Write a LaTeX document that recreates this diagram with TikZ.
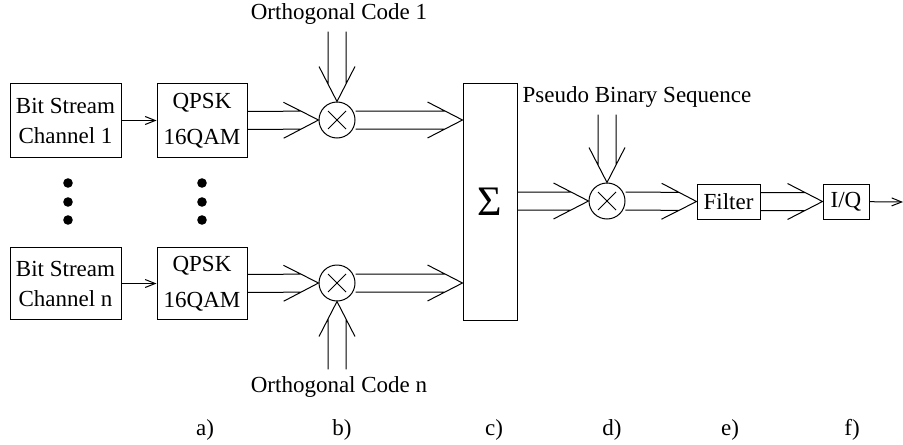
\documentclass[tikz,border=0pt]{standalone}
\usepackage{fontspec}
\setmainfont{Liberation Serif}
\usetikzlibrary{arrows.meta,calc}

\begin{document}
\begin{tikzpicture}[x=0.5pt,y=-0.5pt,line width=0.5pt,font=\fontsize{11.5}{15}\selectfont,
box/.style={draw,align=center,inner sep=0pt},
mult/.style={draw,circle,minimum size=18pt,inner sep=0pt,
  path picture={\draw ([shift={(-4.5pt,-4.5pt)}]path picture bounding box.center) -- ++(9pt,9pt)
  ([shift={(-4.5pt,4.5pt)}]path picture bounding box.center) -- ++(9pt,-9pt);}},
arr/.style={-{Straight Barb[length=5pt,width=4pt]}},
dbl/.style={to path={
  ($(\tikztostart)!4.5pt!90:(\tikztotarget)$) -- ($(\tikztotarget)!8.75pt!(\tikztostart)!4.5pt!-90:(\tikztostart)$)
  ($(\tikztostart)!4.5pt!-90:(\tikztotarget)$) -- ($(\tikztotarget)!8.75pt!(\tikztostart)!4.5pt!90:(\tikztostart)$)
  ($(\tikztotarget)!17.5pt!(\tikztostart)!9pt!-90:(\tikztostart)$) -- (\tikztotarget)
  -- ($(\tikztotarget)!17.5pt!(\tikztostart)!9pt!90:(\tikztostart)$)}}]
\useasboundingbox (0,0) rectangle (903,444);
\node[box,minimum width=55.5pt,minimum height=36.5pt] (bs1) at (65.5,120.5) {Bit Stream\\Channel 1};
\node[box,minimum width=45pt,minimum height=36.5pt] (qam1) at (202,120.5) {QPSK\\[3pt]16QAM};
\node[box,minimum width=55.5pt,minimum height=36pt] (bs2) at (65.5,283.5) {Bit Stream\\Channel n};
\node[box,minimum width=45pt,minimum height=36pt] (qam2) at (202,283.5) {QPSK\\[3pt]16QAM};
\node[mult] (mul1) at (337,120) {};
\node[mult] (mul2) at (337,283) {};
\node[box,minimum width=27pt,minimum height=118pt] (sum) at (490,202) {\fontsize{21}{21}\selectfont Σ};
\node[mult] (mul3) at (607,201) {};
\node[box,minimum width=31.5pt,minimum height=17.5pt] (filt) at (728.5,201.5) {Filter};
\node[box,minimum width=23pt,minimum height=17.5pt] (iq) at (846,201.5) {I/Q};
\coordinate (out) at (903,202);
\node (oc1) at (339,14) {Orthogonal Code 1};
\node (ocn) at (339,387) {Orthogonal Code n};
\node (pbs) at (637,97) {Pseudo Binary Sequence};
\coordinate (s1) at (sum.west |- mul1);
\coordinate (s2) at (sum.west |- mul2);
\coordinate (s3) at (sum.east |- mul3);
\coordinate (p1) at (pbs.south -| mul3);
\coordinate (c1) at (oc1.south -| mul1);
\coordinate (c2) at (ocn.north -| mul2);
\foreach \y in {183,202,220} {\fill (68,\y) circle (2.4pt) (202,\y) circle (2.4pt);}
\draw[arr] (bs1) -- (qam1);
\draw[arr] (bs2) -- (qam2);
\draw (qam1.east) to[dbl] (mul1.west);
\draw (mul1.east) to[dbl] (s1);
\draw (c1) to[dbl] (mul1.north);
\draw (qam2.east) to[dbl] (mul2.west);
\draw (mul2.east) to[dbl] (s2);
\draw (c2) to[dbl] (mul2.south);
\draw (s3) to[dbl] (mul3.west);
\draw (p1) to[dbl] (mul3.north);
\draw (mul3.east) to[dbl] (filt.west);
\draw (filt.east) to[dbl] (iq.west);
\draw[arr] (iq) -- (out);
\foreach \l/\x in {a/205,b/342,c/494,d/612,e/730,f/852} \node (lab\l) at (\x,430) {\l)};
\end{tikzpicture}
\end{document}
